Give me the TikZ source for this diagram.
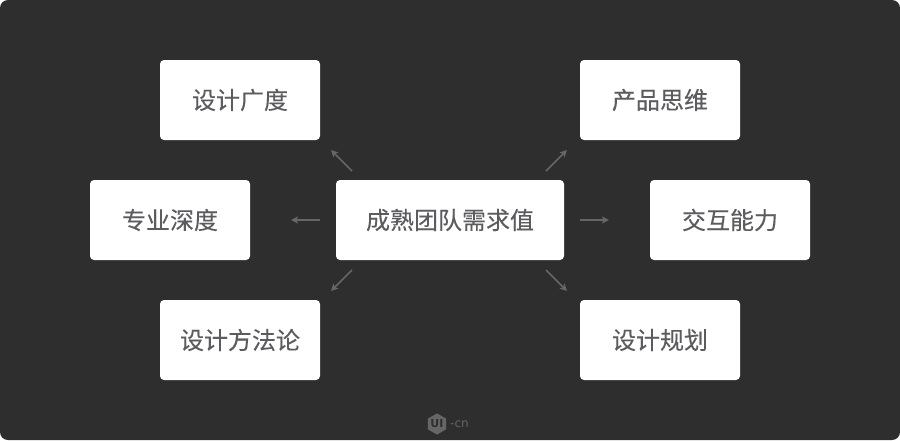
\documentclass[tikz,border=0pt]{standalone}
\usepackage{fontspec}
\setmainfont[FakeBold=0.15]{Noto Sans CJK SC}
\newfontfamily\logofont{DejaVu Sans}
\usetikzlibrary{arrows.meta,shapes.geometric}
\definecolor{panelbg}{HTML}{2E2E2E}
\definecolor{boxtext}{HTML}{5C5C60}
\definecolor{arrowgray}{HTML}{666666}
\tikzset{
  box/.style={fill=white, rounded corners=4pt, minimum width=160pt, minimum height=80pt,
    inner sep=0pt, text=boxtext, font=\fontsize{24pt}{28pt}\selectfont},
  link/.style={arrowgray, line width=1.6pt, -{Stealth[length=7pt,width=7pt,inset=1.5pt]}}
}

\begin{document}
\begin{tikzpicture}[x=1pt,y=-1pt]
  \useasboundingbox (0,0) rectangle (900,440);
  \fill[panelbg, rounded corners=8pt] (0,0) rectangle (900,440);

  \node [box] at (240,100) (breadth) {设计广度};
  \node [box] at (660,100) (product) {产品思维};
  \node [box] at (170,220) (depth) {专业深度};
  \node [box, minimum width=228pt] at (450,220) (center) {成熟团队需求值};
  \node [box] at (730,220) (interact) {交互能力};
  \node [box] at (240,340) (method) {设计方法论};
  \node [box] at (660,340) (plan) {设计规划};

  \coordinate (s1) at (352,171);
  \coordinate (e1) at (331,150);
  \coordinate (s2) at (320,220);
  \coordinate (e2) at (291,220);
  \coordinate (s3) at (352,270);
  \coordinate (e3) at (331,291);
  \coordinate (s4) at (546,171);
  \coordinate (e4) at (567,150);
  \coordinate (s5) at (580,220);
  \coordinate (e5) at (609,220);
  \coordinate (s6) at (546,270);
  \coordinate (e6) at (567,291);
  \foreach \i in {1,...,6}
    \draw [link] (s\i) -- (e\i);

  % logo at the bottom
  \node [regular polygon, regular polygon sides=6, shape border rotate=30, fill=arrowgray, minimum size=20pt, inner sep=0pt,
    text=panelbg, font=\logofont\bfseries\fontsize{11pt}{11pt}\selectfont] at (437,424) (logo) {UI};
  \node [text=arrowgray, inner sep=0pt, font=\logofont\fontsize{12pt}{12pt}\selectfont] at (459.5,424) (logotext) {-cn};
\end{tikzpicture}
\end{document}
